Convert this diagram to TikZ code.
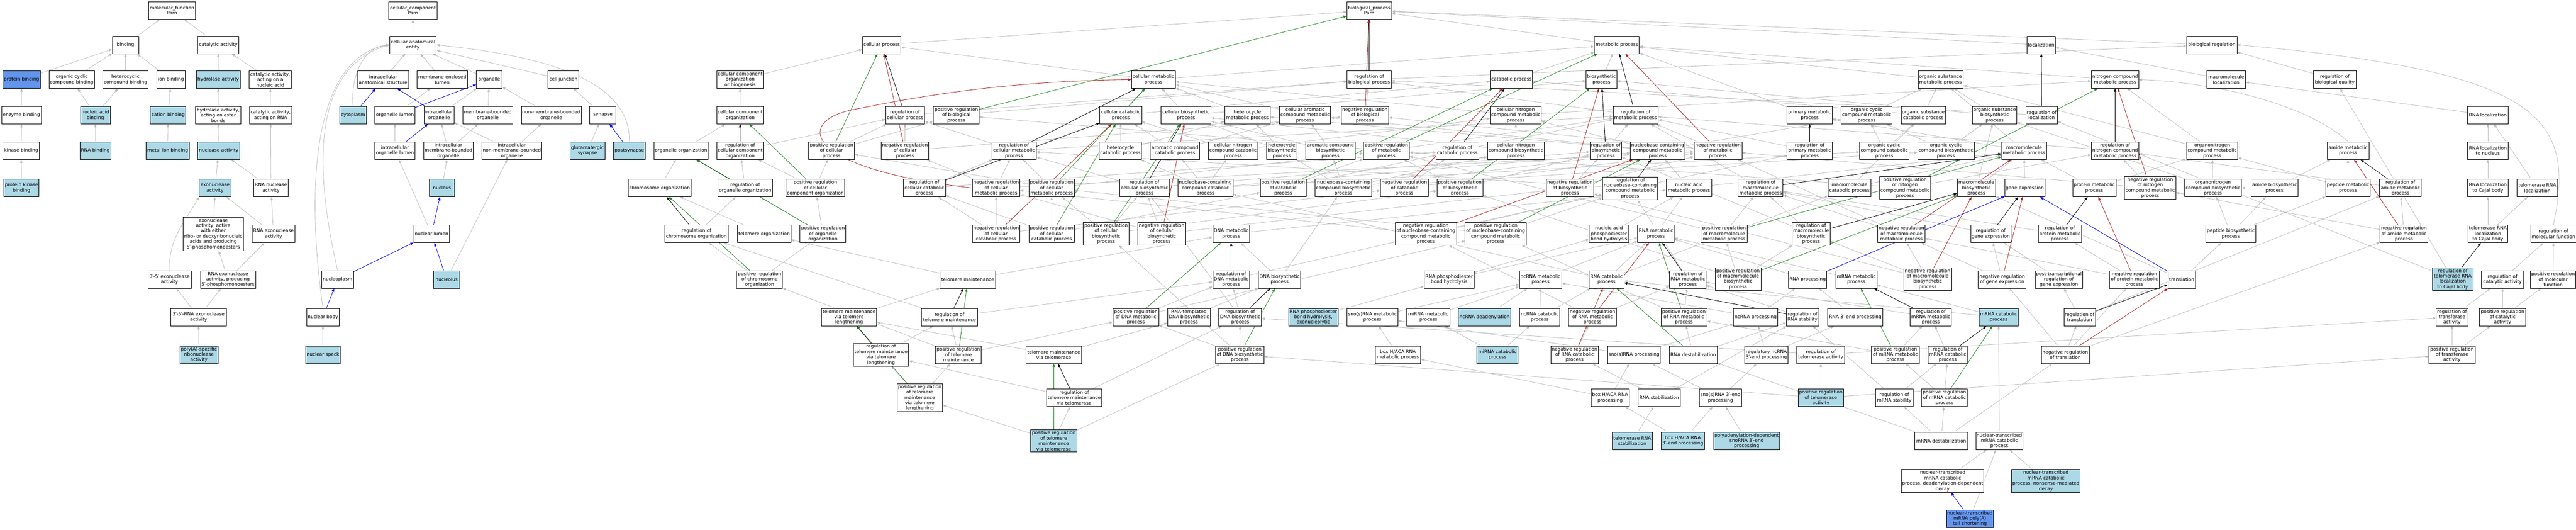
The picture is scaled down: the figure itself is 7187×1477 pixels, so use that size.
\documentclass[tikz,border=0pt]{standalone}
\usepackage{fontspec}
\setmainfont{DejaVu Sans}
\usetikzlibrary{arrows.meta}
\definecolor{lbl}{RGB}{173,216,230}
\definecolor{cbl}{RGB}{100,149,237}
\definecolor{eg}{RGB}{190,190,190}
\definecolor{fgr}{RGB}{34,139,34}
\definecolor{frd}{RGB}{178,34,34}
\pgfdeclarelayer{bg}
\pgfsetlayers{bg,main}
\begin{document}
\begin{tikzpicture}[x=1pt,y=-1pt,
 every node/.style={font=\fontsize{13}{15}\selectfont},
 gbox/.style={draw=black,line width=1.1pt,fill=white,rectangle,align=center,inner xsep=2pt,inner ysep=3pt,minimum height=49,minimum width=#1},
 lbox/.style={gbox=#1,fill=lbl},
 cbox/.style={gbox=#1,fill=cbl},
 tipx/.style={-{Triangle[length=9pt,width=7pt]}},
 isa/.style={tipx,draw=eg,line width=1.2pt},
 po/.style={tipx,draw=blue,line width=1.2pt},
 rgl/.style={tipx,draw=black,line width=1.2pt},
 prg/.style={tipx,draw=fgr,line width=1.2pt},
 nrg/.style={tipx,draw=frd,line width=1.2pt}]
\useasboundingbox (0,0) rectangle (7187,1477);
% ---------- molecular function
\node[gbox=131] (mf) at (480,29) {molecular\_function\\Parn};
\node[gbox=73] (bind) at (350,125) {binding};
\node[gbox=115] (cat) at (609,125) {catalytic activity};
\node[cbox=105] (pbind) at (60,222) {protein binding};
\node[gbox=127] (ocbind) at (200,222) {organic cyclic\\compound binding};
\node[gbox=127] (hcbind) at (350,222) {heterocyclic\\compound binding};
\node[gbox=79] (ionb) at (477,222) {ion binding};
\node[lbox=122] (hydro) at (609,222) {hydrolase activity};
\node[gbox=118] (catna) at (754,222) {catalytic activity,\\acting on a\\nucleic acid};
\node[gbox=110] (enzb) at (60,321) {enzyme binding};
\node[lbox=83] (nab) at (266,321) {nucleic acid\\binding};
\node[lbox=99] (catb) at (469,321) {cation binding};
\node[gbox=126] (hydest) at (609,321) {hydrolase activity,\\acting on ester\\bonds};
\node[gbox=118] (catrna) at (755,321) {catalytic activity,\\acting on RNA};
\node[gbox=102] (kinb) at (59,420) {kinase binding};
\node[lbox=86] (rnab) at (266,420) {RNA binding};
\node[lbox=120] (metb) at (468,420) {metal ion binding};
\node[lbox=117] (nucl) at (610,420) {nuclease activity};
\node[lbox=98] (pkb) at (60,524) {protein kinase\\binding};
\node[lbox=88] (exo) at (600,524) {exonuclease\\activity};
\node[gbox=96] (rnanuc) at (756,524) {RNA nuclease\\activity};
\node[gbox=169] (exo5) at (595,652) {exonuclease\\activity, active\\with either\\ribo- or deoxyribonucleic\\acids and producing\\5′-phosphomonoesters};
\node[gbox=120] (rnaexo) at (763,652) {RNA exonuclease\\activity};
\node[gbox=121] (exo35) at (473,779) {3′-5′ exonuclease\\activity};
\node[gbox=154] (rnaexo5) at (636,779) {RNA exonuclease\\activity, producing\\5′-phosphomonoesters};
\node[gbox=155] (rnaexo35) at (554,884) {3′-5′-RNA exonuclease\\activity};
\node[lbox=107] (polya) at (555,989) {poly(A)-specific\\ribonuclease\\activity};
% ---------- cellular component
\node[gbox=134] (cc) at (1152,29) {cellular\_component\\Parn};
\node[gbox=130] (cae) at (1152,125) {cellular anatomical\\entity};
\node[gbox=142] (ias) at (1069,222) {intracellular\\anatomical structure};
\node[gbox=140] (mel) at (1234,222) {membrane-enclosed\\lumen};
\node[gbox=72] (org) at (1365,222) {organelle};
\node[gbox=86] (cj) at (1572,222) {cell junction};
\node[lbox=75] (cyto) at (985,321) {cytoplasm};
\node[gbox=112] (orgl) at (1102,321) {organelle lumen};
\node[gbox=83] (io) at (1225,321) {intracellular\\organelle};
\node[gbox=139] (mbo) at (1361,321) {membrane-bounded\\organelle};
\node[gbox=167] (nmbo) at (1538,321) {non-membrane-bounded\\organelle};
\node[gbox=73] (syn) at (1682,321) {synapse};
\node[gbox=112] (iol) at (1102,420) {intracellular\\organelle lumen};
\node[gbox=139] (imbo) at (1251,420) {intracellular\\membrane-bounded\\organelle};
\node[gbox=167] (inmbo) at (1428,420) {intracellular\\non-membrane-bounded\\organelle};
\node[lbox=98] (gsyn) at (1639,420) {glutamatergic\\synapse};
\node[lbox=89] (psyn) at (1756,420) {postsynapse};
\node[lbox=71] (nuc) at (1233,524) {nucleus};
\node[gbox=99] (nlum) at (1204,652) {nuclear lumen};
\node[gbox=88] (npl) at (942,779) {nucleoplasm};
\node[lbox=73] (nolus) at (1246,779) {nucleolus};
\node[gbox=91] (nbody) at (901,884) {nuclear body};
\node[lbox=96] (nspeck) at (901,989) {nuclear speck};
% ---------- biological process rows 0-2
\node[gbox=125] (bp) at (3820,29) {biological\_process\\Parn};
\node[gbox=107] (cp) at (2460,125) {cellular process};
\node[gbox=125] (mp) at (4511,125) {metabolic process};
\node[gbox=79] (loc) at (5695,125) {localization};
\node[gbox=140] (breg) at (6171,125) {biological regulation};
\node[gbox=131] (ccob) at (2065,222) {cellular component\\organization\\or biogenesis};
\node[gbox=123] (cmp) at (3218,222) {cellular metabolic\\process};
\node[gbox=123] (rbp) at (3820,222) {regulation of\\biological process};
\node[gbox=118] (catp) at (4217,222) {catabolic process};
\node[gbox=86] (bsp) at (4468,222) {biosynthetic\\process};
\node[gbox=125] (osmp) at (5414,222) {organic substance\\metabolic process};
\node[gbox=132] (ncmp) at (5901,222) {nitrogen compound\\metabolic process};
\node[gbox=107] (mloc) at (6211,222) {macromolecule\\localization};
\node[gbox=119] (rbq) at (6514,222) {regulation of\\biological quality};
% row 3
\node[gbox=131] (cco) at (2065,321) {cellular component\\organization};
\node[gbox=108] (rcp) at (2525,321) {regulation of\\cellular process};
\node[gbox=128] (prbp) at (2668,321) {positive regulation\\of biological\\process};
\node[gbox=117] (ccat) at (3127,321) {cellular catabolic\\process};
\node[gbox=139] (cbio) at (3309,321) {cellular biosynthetic\\process};
\node[gbox=126] (hmp) at (3480,321) {heterocycle\\metabolic process};
\node[gbox=142] (camp) at (3641,321) {cellular aromatic\\compound metabolic\\process};
\node[gbox=133] (nrbp) at (3808,321) {negative regulation\\of biological\\process};
\node[gbox=142] (cncmp) at (4229,321) {cellular nitrogen\\compound metabolic\\process};
\node[gbox=125] (rmp) at (4563,321) {regulation of\\metabolic process};
\node[gbox=126] (pmp) at (5049,321) {primary metabolic\\process};
\node[gbox=142] (occmp) at (5208,321) {organic cyclic\\compound metabolic\\process};
\node[gbox=123] (oscp) at (5366,321) {organic substance\\catabolic process};
\node[gbox=123] (osbp) at (5565,321) {organic substance\\biosynthetic\\process};
\node[gbox=88] (rloc) at (5696,321) {regulation of\\localization};
\node[gbox=113] (rnaloc) at (6941,321) {RNA localization};
% row 4
\node[gbox=152] (oo) at (1900,420) {organelle organization};
\node[gbox=131] (rcco) at (2065,420) {regulation of\\cellular component\\organization};
\node[gbox=128] (prcp) at (2320,420) {positive regulation\\of cellular\\process};
\node[gbox=132] (nrcp) at (2525,420) {negative regulation\\of cellular\\process};
\node[gbox=123] (rcmp) at (2829,420) {regulation of\\cellular metabolic\\process};
\node[gbox=118] (hcp) at (3126,420) {heterocycle\\catabolic process};
\node[gbox=137] (acp) at (3278,420) {aromatic compound\\catabolic process};
\node[gbox=137] (cnccp) at (3440,420) {cellular nitrogen\\compound catabolic\\process};
\node[gbox=86] (hbp) at (3576,420) {heterocycle\\biosynthetic\\process};
\node[gbox=137] (abp) at (3712,420) {aromatic compound\\biosynthetic\\process};
\node[gbox=128] (prmp) at (3868,420) {positive regulation\\of metabolic\\process};
\node[gbox=119] (rcatp) at (4066,420) {regulation of\\catabolic process};
\node[gbox=158] (cncbp) at (4229,420) {cellular nitrogen\\compound biosynthetic\\process};
\node[gbox=88] (rbsp) at (4480,420) {regulation of\\biosynthetic\\process};
\node[gbox=153] (nbcmp) at (4625,420) {nucleobase-containing\\compound metabolic\\process};
\node[gbox=134] (nrmp) at (4793,420) {negative regulation\\of metabolic\\process};
\node[gbox=126] (rpmp) at (5049,420) {regulation of\\primary metabolic\\process};
\node[gbox=137] (occcp) at (5257,420) {organic cyclic\\compound catabolic\\process};
\node[gbox=158] (occbp) at (5429,420) {organic cyclic\\compound biosynthetic\\process};
\node[gbox=125] (mmp) at (5647,420) {macromolecule\\metabolic process};
\node[gbox=132] (rncmp) at (5901,420) {regulation of\\nitrogen compound\\metabolic process};
\node[gbox=143] (onmp) at (6172,420) {organonitrogen\\compound metabolic\\process};
\node[gbox=116] (amp) at (6551,420) {amide metabolic\\process};
\node[gbox=113] (rlnuc) at (6941,420) {RNA localization\\to nucleus};
% row 5
\node[gbox=176] (co) at (1840,524) {chromosome organization};
\node[gbox=153] (roo) at (2079,524) {regulation of\\organelle organization};
\node[gbox=164] (prcco) at (2275,524) {positive regulation\\of cellular\\component organization};
\node[gbox=117] (rccatp) at (2579,524) {regulation of\\cellular catabolic\\process};
\node[gbox=133] (nrcmp) at (2779,524) {negative regulation\\of cellular\\metabolic process};
\node[gbox=127] (prcmp) at (2934,524) {positive regulation\\of cellular\\metabolic process};
\node[gbox=138] (rcbp) at (3193,524) {regulation of\\cellular biosynthetic\\process};
\node[gbox=153] (nbccp) at (3363,524) {nucleobase-containing\\compound catabolic\\process};
\node[gbox=128] (prcatp) at (3580,524) {positive regulation\\of catabolic\\process};
\node[gbox=158] (nbcbp) at (3748,524) {nucleobase-containing\\compound biosynthetic\\process};
\node[gbox=133] (nrcatp) at (3918,524) {negative regulation\\of catabolic\\process};
\node[gbox=128] (prbsp) at (4073,524) {positive regulation\\of biosynthetic\\process};
\node[gbox=133] (nrbsp) at (4380,524) {negative regulation\\of biosynthetic\\process};
\node[gbox=153] (rnbcmp) at (4548,525) {regulation of\\nucleobase-containing\\compound metabolic\\process};
\node[gbox=126] (namp) at (4712,524) {nucleic acid\\metabolic process};
\node[gbox=125] (rmmp) at (4912,524) {regulation of\\macromolecule\\metabolic process};
\node[gbox=118] (mcp) at (5160,524) {macromolecule\\catabolic process};
\node[gbox=143] (prncmp) at (5315,524) {positive regulation\\of nitrogen\\compound metabolic\\process};
\node[gbox=107] (mbp) at (5514,524) {macromolecule\\biosynthetic\\process};
\node[gbox=112] (ge) at (5649,524) {gene expression};
\node[gbox=121] (protmp) at (5843,524) {protein metabolic\\process};
\node[gbox=143] (nrncmp) at (5999,524) {negative regulation\\of nitrogen\\compound metabolic\\process};
\node[gbox=159] (onbp) at (6174,524) {organonitrogen\\compound biosynthetic\\process};
\node[gbox=131] (abiop) at (6346,524) {amide biosynthetic\\process};
\node[gbox=124] (pepmp) at (6551,524) {peptide metabolic\\process};
\node[gbox=116] (ramp) at (6697,524) {regulation of\\amide metabolic\\process};
\node[gbox=113] (rlcajal) at (6941,524) {RNA localization\\to Cajal body};
\node[gbox=113] (trloc) at (7079,524) {telomerase RNA\\localization};
% row 6
\node[gbox=177] (rco) at (1943,652) {regulation of\\chromosome organization};
\node[gbox=149] (to) at (2132,652) {telomere organization};
\node[gbox=128] (proo) at (2296,652) {positive regulation\\of organelle\\organization};
\node[gbox=133] (nrccatp) at (2779,652) {negative regulation\\of cellular\\catabolic process};
\node[gbox=127] (prccatp) at (2934,652) {positive regulation\\of cellular\\catabolic process};
\node[gbox=127] (prcbp) at (3086,652) {positive regulation\\of cellular\\biosynthetic\\process};
\node[gbox=134] (nrcbp) at (3241,652) {negative regulation\\of cellular\\biosynthetic\\process};
\node[gbox=103] (dnamp) at (3435,652) {DNA metabolic\\process};
\node[gbox=171] (nrnbcmp) at (3978,652) {negative regulation\\of nucleobase-containing\\compound metabolic\\process};
\node[gbox=171] (prnbcmp) at (4173,652) {positive regulation\\of nucleobase-containing\\compound metabolic\\process};
\node[gbox=110] (napbh) at (4489,652) {nucleic acid\\phosphodiester\\bond hydrolysis};
\node[gbox=102] (rnamp) at (4620,652) {RNA metabolic\\process};
\node[gbox=128] (prmmp) at (4810,652) {positive regulation\\of macromolecule\\metabolic process};
\node[gbox=106] (rmbp) at (5053,652) {regulation of\\macromolecule\\biosynthetic\\process};
\node[gbox=132] (nrmmp) at (5305,652) {negative regulation\\of macromolecule\\metabolic process};
\node[gbox=112] (rge) at (5554,652) {regulation of\\gene expression};
\node[gbox=120] (rprotmp) at (5747,652) {regulation of\\protein metabolic\\process};
\node[gbox=139] (pepbp) at (6224,652) {peptide biosynthetic\\process};
\node[gbox=134] (nramp) at (6707,652) {negative regulation\\of amide metabolic\\process};
\node[gbox=112] (trlcajal) at (6941,652) {telomerase RNA\\localization\\to Cajal body};
\node[gbox=124] (rmf) at (7124,652) {regulation of\\molecular function};
% row 7
\node[gbox=128] (prco) at (2119,779) {positive regulation\\of chromosome\\organization};
\node[gbox=154] (tm) at (2700,779) {telomere maintenance};
\node[gbox=103] (rdnamp) at (3435,779) {regulation of\\DNA metabolic\\process};
\node[gbox=118] (dnabp) at (3570,779) {DNA biosynthetic\\process};
\node[gbox=139] (rnapbh) at (4043,779) {RNA phosphodiester\\bond hydrolysis};
\node[gbox=118] (ncrnamp) at (4298,779) {ncRNA metabolic\\process};
\node[gbox=97] (rnacp) at (4482,779) {RNA catabolic\\process};
\node[gbox=102] (rrnamp) at (4709,779) {regulation of\\RNA metabolic\\process};
\node[gbox=128] (prmbp) at (4849,778) {positive regulation\\of macromolecule\\biosynthetic\\process};
\node[gbox=107] (rnaproc) at (5043,779) {RNA processing};
\node[gbox=115] (mrnamp) at (5179,779) {mRNA metabolic\\process};
\node[gbox=134] (nrmbp) at (5378,778) {negative regulation\\of macromolecule\\biosynthetic\\process};
\node[gbox=134] (nrge) at (5586,779) {negative regulation\\of gene expression};
\node[gbox=132] (ptrge) at (5744,779) {post-transcriptional\\regulation of\\gene expression};
\node[gbox=139] (nrprotmp) at (5955,779) {negative regulation\\of protein metabolic\\process};
\node[gbox=77] (transl) at (6087,779) {translation};
\node[lbox=113] (rtrlcajal) at (6843,778) {regulation of\\telomerase RNA\\localization\\to Cajal body};
\node[gbox=117] (rcata) at (6982,779) {regulation of\\catalytic activity};
\node[gbox=126] (prmf) at (7123,779) {positive regulation\\of molecular\\function};
% row 8
\node[gbox=154] (tmtl) at (2369,884) {telomere maintenance\\via telomere\\lengthening};
\node[gbox=156] (rtm) at (2649,884) {regulation of\\telomere maintenance};
\node[gbox=128] (prdnamp) at (3169,884) {positive regulation\\of DNA metabolic\\process};
\node[gbox=119] (rtdbp) at (3317,884) {RNA-templated\\DNA biosynthetic\\process};
\node[gbox=119] (rdnabp) at (3460,884) {regulation of\\DNA biosynthetic\\process};
\node[lbox=138] (rnapbhe) at (3664,884) {RNA phosphodiester\\bond hydrolysis,\\exonucleolytic};
\node[gbox=142] (snomp) at (3829,884) {sno(s)RNA metabolic\\process};
\node[gbox=120] (mirmp) at (3985,884) {miRNA metabolic\\process};
\node[lbox=147] (ncdead) at (4142,884) {ncRNA deadenylation};
\node[gbox=112] (nccp) at (4296,884) {ncRNA catabolic\\process};
\node[gbox=133] (nrrnamp) at (4443,884) {negative regulation\\of RNA metabolic\\process};
\node[gbox=128] (prrnamp) at (4698,884) {positive regulation\\of RNA metabolic\\process};
\node[gbox=123] (ncproc) at (4898,884) {ncRNA processing};
\node[gbox=90] (rrnastab) at (5029,884) {regulation of\\RNA stability};
\node[gbox=153] (rna3) at (5176,884) {RNA 3′-end processing};
\node[gbox=115] (rmrnamp) at (5387,884) {regulation of\\mRNA metabolic\\process};
\node[lbox=109] (mrnacp) at (5576,884) {mRNA catabolic\\process};
\node[gbox=88] (rtransl) at (5802,884) {regulation of\\translation};
\node[gbox=88] (rtrans) at (6841,884) {regulation of\\transferase\\activity};
\node[gbox=129] (prcata) at (6982,884) {positive regulation\\of catalytic\\activity};
% row 9
\node[gbox=154] (rtmtl) at (2458,989) {regulation of\\telomere maintenance\\via telomere\\lengthening};
\node[gbox=128] (prtm) at (2674,989) {positive regulation\\of telomere\\maintenance};
\node[gbox=154] (tmtel) at (2940,989) {telomere maintenance\\via telomerase};
\node[gbox=135] (prdnabp) at (3459,989) {positive regulation\\of DNA biosynthetic\\process};
\node[gbox=126] (bhacamp) at (3900,989) {box H/ACA RNA\\metabolic process};
\node[lbox=115] (mircp) at (4178,989) {miRNA catabolic\\process};
\node[gbox=132] (nrrnacp) at (4393,989) {negative regulation\\of RNA catabolic\\process};
\node[gbox=147] (snoproc) at (4559,989) {sno(s)RNA processing};
\node[gbox=134] (rnadest) at (4724,989) {RNA destabilization};
\node[gbox=120] (rnc3) at (4928,989) {regulatory ncRNA\\3′-end processing};
\node[gbox=134] (rtela) at (5080,989) {regulation of\\telomerase activity};
\node[gbox=133] (prmrnamp) at (5288,989) {positive regulation\\of mRNA metabolic\\process};
\node[gbox=109] (rmrnacp) at (5434,989) {regulation of\\mRNA catabolic\\process};
\node[gbox=133] (nrtransl) at (5762,989) {negative regulation\\of translation};
\node[gbox=129] (prtrans) at (6841,989) {positive regulation\\of transferase\\activity};
% row 10
\node[gbox=127] (prtmtl) at (2566,1109) {positive regulation\\of telomere\\maintenance\\via telomere\\lengthening};
\node[gbox=154] (rtmtel) at (2997,1109) {regulation of\\telomere maintenance\\via telomerase};
\node[gbox=106] (bhacap) at (4492,1109) {box H/ACA RNA\\processing};
\node[gbox=118] (rnastab) at (4629,1109) {RNA stabilization};
\node[gbox=118] (sno3) at (4800,1109) {sno(s)RNA 3′-end\\processing};
\node[lbox=127] (prtela) at (5080,1109) {positive regulation\\of telomerase\\activity};
\node[gbox=104] (rmrnastab) at (5285,1109) {regulation of\\mRNA stability};
\node[gbox=128] (prmrnacp) at (5425,1109) {positive regulation\\of mRNA catabolic\\process};
% row 11-13
\node[lbox=128] (prtmtel) at (2940,1229) {positive regulation\\of telomere\\maintenance\\via telomerase};
\node[lbox=112] (trnastab) at (4554,1229) {telomerase RNA\\stabilization};
\node[lbox=121] (bhaca3) at (4695,1229) {box H/ACA RNA\\3′-end processing};
\node[lbox=184] (polyasno) at (4873,1229) {polyadenylation-dependent\\snoRNA 3′-end\\processing};
\node[gbox=147] (mrnadest) at (5416,1229) {mRNA destabilization};
\node[gbox=130] (ntmcp) at (5578,1229) {nuclear-transcribed\\mRNA catabolic\\process};
\node[gbox=230] (dadd) at (5420,1341) {nuclear-transcribed\\mRNA catabolic\\process, deadenylation-dependent\\decay};
\node[lbox=191] (nmd) at (5708,1341) {nuclear-transcribed\\mRNA catabolic\\process, nonsense-mediated\\decay};
\node[cbox=130] (polyat) at (5496,1446) {nuclear-transcribed\\mRNA poly(A)\\tail shortening};
% ---------- edges
\begin{pgfonlayer}{bg}
\foreach \a/\b in {bind/mf,cat/mf,pbind/bind,ocbind/bind,hcbind/bind,ionb/bind,hydro/cat,catna/cat,enzb/pbind,nab/ocbind,nab/hcbind,catb/ionb,hydest/hydro,catrna/catna,kinb/enzb,rnab/nab,metb/catb,nucl/hydest,pkb/kinb,exo/nucl,rnanuc/nucl,rnanuc/catrna,exo5/exo,rnaexo/exo,rnaexo/rnanuc,rnaexo5/exo5,rnaexo5/rnaexo,rnaexo35/exo35,rnaexo35/rnaexo5,polya/rnaexo35,
cae/cc,ias/cae,mel/cae,org/cae,cj/cae,orgl/mel,io/org,iol/orgl,imbo/io,imbo/mbo,mbo/org,nmbo/org,inmbo/io,inmbo/nmbo,syn/cj,gsyn/syn,nuc/imbo,nlum/iol,nspeck/nbody,nolus/inmbo}
 \draw[isa] (\a) -- (\b);
\draw[isa] (exo35.north) to[out=92,in=240] (exo.south west);
\draw[isa] (cyto.north) to[out=95,in=185] (cae.west);
\draw[isa] (npl.north) .. controls (860,400) and (900,180) .. (cae.west);
\draw[isa] (nbody.north) .. controls (850,500) and (880,160) .. (cae.west);
\draw[isa] (psyn.north) .. controls (1760,200) and (1450,150) .. (cae.east);
\foreach \a/\b in {cp/bp,mp/bp,loc/bp,breg/bp,ccob/cp,cco/ccob,oo/cco,co/oo,to/co,tm/to,tm/dnamp,
rcco/rcp,roo/rcco,prcco/rcco,prcco/prcp,prcp/prbp,prcp/rcp,rco/roo,proo/roo,proo/prcco,prco/rco,prco/proo,
rcp/rbp,nrcp/nrbp,nrcp/rcp,prbp/rbp,nrbp/rbp,rbp/breg,
cmp/cp,cmp/mp,rcmp/rcp,rcmp/rmp,nrcmp/nrcp,nrcmp/nrmp,nrcmp/rcmp,prcmp/prcp,prcmp/prmp,prcmp/rcmp,
catp/mp,bsp/mp,rmp/rbp,nrmp/nrbp,nrmp/rmp,prmp/prbp,prmp/rmp,
ccat/cmp,ccat/catp,cbio/cmp,cbio/bsp,hmp/cmp,camp/cmp,cncmp/cmp,cncmp/ncmp,
osmp/mp,pmp/mp,ncmp/mp,occmp/osmp,oscp/osmp,oscp/catp,osbp/osmp,osbp/bsp,mmp/osmp,mmp/pmp,
hcp/ccat,hcp/hmp,acp/ccat,acp/camp,cnccp/ccat,cnccp/cncmp,hbp/cbio,hbp/hmp,abp/cbio,abp/camp,cncbp/cbio,cncbp/cncmp,
occcp/occmp,occcp/oscp,occbp/occmp,occbp/osbp,
nbcmp/hmp,nbcmp/camp,nbcmp/cncmp,nbcmp/occmp,
nbccp/nbcmp,nbccp/hcp,nbccp/acp,nbccp/cnccp,nbccp/occcp,
nbcbp/nbcmp,nbcbp/hbp,nbcbp/abp,nbcbp/cncbp,nbcbp/occbp,
namp/nbcmp,namp/mmp,mcp/mmp,mcp/oscp,mbp/mmp,mbp/osbp,ge/mmp,protmp/mmp,protmp/onmp,
onmp/ncmp,onmp/osmp,onbp/onmp,onbp/osbp,abiop/amp,abiop/onbp,pepmp/amp,pepmp/onmp,pepbp/pepmp,pepbp/abiop,pepbp/onbp,transl/pepbp,transl/mbp,
rnaproc/rnamp,rnamp/namp,dnamp/namp,napbh/namp,rnapbh/napbh,rnapbh/rnamp,rnapbhe/rnapbh,
mrnamp/rnamp,ncrnamp/rnamp,rnacp/rnamp,rnacp/nbccp,rnacp/mcp,ncproc/ncrnamp,ncproc/rnaproc,rna3/rnaproc,
mrnacp/mrnamp,mrnacp/rnacp,ntmcp/mrnacp,nmd/ntmcp,dadd/ntmcp,polyat/ntmcp,
snomp/ncrnamp,mirmp/ncrnamp,ncdead/ncrnamp,nccp/ncrnamp,nccp/rnacp,mircp/mirmp,mircp/nccp,
bhacamp/snomp,snoproc/snomp,snoproc/ncproc,sno3/snoproc,sno3/rnc3,rnc3/ncproc,rnc3/rna3,polyasno/sno3,
bhacap/bhacamp,bhacap/snoproc,bhaca3/bhacap,bhaca3/sno3,rnastab/rrnastab,rnastab/nrrnacp,trnastab/rnastab,
rnadest/rrnastab,rnadest/prrnamp,mrnadest/rnadest,mrnadest/rmrnastab,mrnadest/prmrnacp,mrnadest/nrtransl,
rrnastab/rrnamp,rmrnastab/rrnastab,rmrnastab/rmrnacp,prmrnacp/rmrnacp,prmrnacp/prmrnamp,rmrnacp/rmrnamp,
prmrnamp/rmrnamp,prmrnamp/prrnamp,rmrnamp/rrnamp,nrrnacp/nrrnamp,nrrnamp/rrnamp,nrrnamp/nrnbcmp,prrnamp/rrnamp,prrnamp/prnbcmp,
rrnamp/rnbcmp,rnbcmp/rcmp,rnbcmp/rpmp,nrnbcmp/rnbcmp,nrnbcmp/nrcmp,prnbcmp/rnbcmp,prnbcmp/prcmp,
rdnamp/rnbcmp,prdnamp/rdnamp,prdnamp/prnbcmp,rdnabp/rdnamp,rdnabp/rcbp,prdnabp/rdnabp,prdnabp/prdnamp,prdnabp/prcbp,
dnabp/dnamp,dnabp/nbcbp,rtdbp/dnabp,tmtel/rtdbp,tmtel/tmtl,tmtl/tm,
rtm/rco,rtm/rdnamp,prtm/rtm,prtm/prco,prtm/prdnamp,rtmtl/rtm,prtmtl/rtmtl,prtmtl/prtm,rtmtel/rtmtl,rtmtel/rdnabp,
prtmtel/rtmtel,prtmtel/prtmtl,prtmtel/prdnabp,
rcatp/rmp,nrcatp/rcatp,nrcatp/nrmp,prcatp/rcatp,prcatp/prmp,rbsp/rmp,nrbsp/rbsp,nrbsp/nrmp,prbsp/rbsp,prbsp/prmp,
rccatp/rcatp,rccatp/rcmp,nrccatp/rccatp,nrccatp/nrcatp,nrccatp/nrcmp,prccatp/rccatp,prccatp/prcatp,prccatp/prcmp,
rcbp/rbsp,rcbp/rcmp,nrcbp/rcbp,nrcbp/nrbsp,nrcbp/nrcmp,prcbp/rcbp,prcbp/prbsp,prcbp/prcmp,
rpmp/rmp,rncmp/rmp,prncmp/rncmp,prncmp/prmp,nrncmp/rncmp,nrncmp/nrmp,rmmp/rmp,prmmp/rmmp,prmmp/prmp,nrmmp/rmmp,nrmmp/nrmp,
rmbp/rmmp,rmbp/rbsp,prmbp/rmbp,prmbp/prmmp,prmbp/prbsp,nrmbp/rmbp,nrmbp/nrmmp,nrmbp/nrbsp,
rge/rmmp,nrge/rge,nrge/nrmmp,ptrge/rge,rprotmp/rmmp,nrprotmp/rprotmp,nrprotmp/nrmmp,
rtransl/ptrge,rtransl/ramp,nrtransl/rtransl,nrtransl/nrge,nrtransl/nrprotmp,nrtransl/nramp,
ramp/rncmp,nramp/ramp,nramp/nrncmp,rloc/rbp,mloc/loc,rnaloc/mloc,rlnuc/rnaloc,rlcajal/rlnuc,trloc/rnaloc,trlcajal/rlcajal,trlcajal/trloc,
rtrlcajal/rloc,rtrlcajal/rbq,rbq/breg,prmf/rmf,rcata/rmf,prcata/rcata,prcata/prmf,rtrans/rcata,prtrans/rtrans,prtrans/prcata,
rtela/rtrans,rtela/rdnabp,prtela/rtela,prtela/prtrans,prtela/prdnabp}
 \draw[isa] (\a) -- (\b);
\draw[isa] (amp.north) .. controls (6450,300) and (6200,230) .. (ncmp.east);
\draw[isa] (rmf.north) .. controls (7185,330) and (7100,200) .. (breg.east);
% part of
\foreach \a/\b in {cyto/ias,orgl/org,io/ias,iol/io,psyn/syn,nlum/nuc,npl/nlum,nbody/npl,nolus/nlum,rnaproc/ge,transl/ge,polyat/dadd}
 \draw[po] (\a) -- (\b);
% regulates
\foreach \a/\b in {rbp/bp,rcp/cp,rcco/cco,roo/oo,rco/co,rcmp/cmp,rmp/mp,rcatp/catp,rbsp/bsp,rccatp/ccat,rcbp/cbio,rpmp/pmp,rncmp/ncmp,rmmp/mmp,rmbp/mbp,rge/ge,rprotmp/protmp,rtransl/transl,ramp/amp,rloc/loc,rtrlcajal/trlcajal,rnbcmp/nbcmp,rrnamp/rnamp,rmrnamp/mrnamp,rmrnacp/mrnacp,rdnamp/dnamp,rdnabp/dnabp,rtm/tm,rtmtl/tmtl,rtmtel/tmtel,rrnastab/rnacp}
 \draw[rgl] (\a) -- (\b);
% positively regulates
\foreach \a/\b in {prbp/bp,prcp/cp,prcco/cco,proo/oo,prco/co,prcmp/cmp,prmp/mp,prcatp/catp,prbsp/bsp,prccatp/ccat,prcbp/cbio,prncmp/ncmp,prmmp/mmp,prmbp/mbp,prnbcmp/nbcmp,prrnamp/rnamp,prmrnamp/mrnamp,prmrnacp/mrnacp,prdnamp/dnamp,prdnabp/dnabp,prtm/tm,prtmtl/tmtl,prtmtel/tmtel,rnadest/rnacp}
 \draw[prg] (\a) -- (\b);
% negatively regulates
\foreach \a/\b in {nrbp/bp,nrcp/cp,nrmp/mp,nrcatp/catp,nrbsp/bsp,nrccatp/ccat,nrcbp/cbio,nrncmp/ncmp,nrmmp/mmp,nrmbp/mbp,nrge/ge,nrprotmp/protmp,nrtransl/transl,nramp/amp,nrnbcmp/nbcmp,nrrnamp/rnamp,nrrnacp/rnacp}
 \draw[nrg] (\a) -- (\b);
\draw[nrg] (nrcmp.west) .. controls (2230,470) and (2210,330) .. (2400,302) .. controls (2700,240) and (2950,224) .. (cmp.west);
\end{pgfonlayer}
\end{tikzpicture}
\end{document}
